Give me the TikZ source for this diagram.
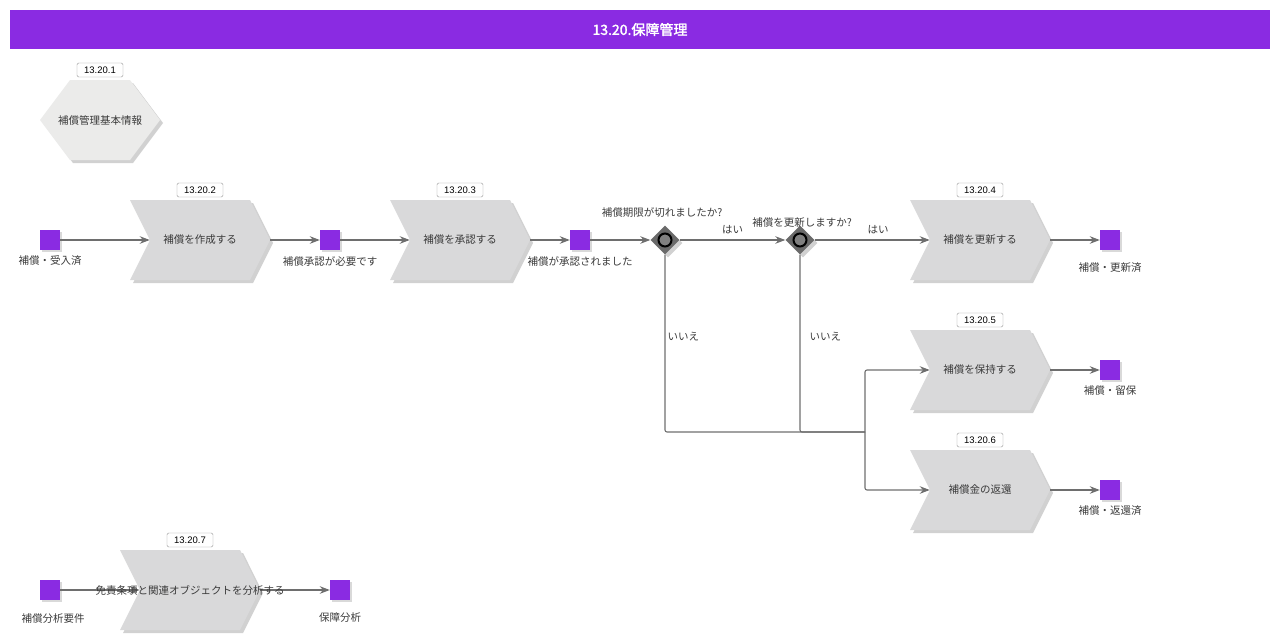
\documentclass[tikz,border=0pt]{standalone}
\usepackage{fontspec}
\setmainfont{Liberation Sans}
\newfontfamily\cjk[AutoFakeBold=2]{Noto Sans CJK JP}
\usetikzlibrary{shapes.symbols,shapes.geometric,shadows,arrows.meta}

\definecolor{titlebg}{HTML}{8A2BE2}
\definecolor{evpurple}{HTML}{8A2BE2}
\definecolor{funcgray}{HTML}{D9D9DA}
\definecolor{hexgray}{HTML}{EBEBEA}
\definecolor{diamgray}{HTML}{6A6A6A}
\definecolor{linegray}{HTML}{6E6E6E}
\definecolor{txtgray}{HTML}{3A3A3A}

\tikzset{
  shade3/.style={drop shadow={shadow xshift=3pt, shadow yshift=-3pt, fill=black, opacity=0.18}},
  func/.style={signal, signal to=east, signal from=west, signal pointer angle=126.87,
    fill=funcgray, minimum width=140, minimum height=80, inner sep=0, shade3},
  hexa/.style={signal, signal to=east and west, signal pointer angle=106.26,
    fill=hexgray, minimum width=120, minimum height=80, inner sep=0, shade3},
  event/.style={rectangle, fill=evpurple, minimum size=20, inner sep=0,
    drop shadow={shadow xshift=1.5pt, shadow yshift=-1.5pt, fill=black, opacity=0.15}},
  xorgate/.style={diamond, fill=diamgray, minimum width=29, minimum height=29, inner sep=0, shade3},
  ring/.style={circle, draw=black, line width=2, fill=gray, minimum size=13, inner sep=0},
  tag/.style={draw=gray!80, fill=white, rounded corners=1.5, minimum width=46, minimum height=14,
    inner sep=0, text=black, font=\fontsize{9.5}{10}\selectfont},
  line/.style={draw=linegray, line width=1.1},
  flow/.style={line, -{Stealth[length=10pt, width=7.5pt]}},
}

\begin{document}
\begin{tikzpicture}[x=1pt, y=-1pt,
    every node/.append style={text=txtgray, font=\cjk\fontsize{10.5}{12}\selectfont}]
  \useasboundingbox (0,0) rectangle (1280,640);
  % title bar
  \node[fill=titlebg, minimum width=1260, minimum height=39, inner sep=0, text=white,
    font=\cjk\bfseries\fontsize{14}{16}\selectfont] (title) at (640,29.5) {13.20.保障管理};

  % functions
  \node[hexa] (f1) at (100,120) {};
  \node (f1t) at (f1) {補償管理基本情報};
  \node[func] (f2) at (200,240) {補償を作成する};
  \node[func] (f3) at (460,240) {補償を承認する};
  \node[func] (f4) at (980,240) {補償を更新する};
  \node[func] (f5) at (980,370) {補償を保持する};
  \node[func] (f6) at (980,490) {補償金の返還};
  \node[func] (f7) at (190,590) {};

  \node[tag] (t1) at (100,70) {13.20.1};
  \node[tag] (t2) at (200,190) {13.20.2};
  \node[tag] (t3) at (460,190) {13.20.3};
  \node[tag] (t4) at (980,190) {13.20.4};
  \node[tag] (t5) at (980,320) {13.20.5};
  \node[tag] (t6) at (980,440) {13.20.6};
  \node[tag] (t7) at (190,540) {13.20.7};

  % events
  \node[event] (e1) at (50,240) {};
  \node[event] (e2) at (330,240) {};
  \node[event] (e3) at (580,240) {};
  \node[event] (e4) at (1110,240) {};
  \node[event] (e5) at (1110,370) {};
  \node[event] (e6) at (1110,490) {};
  \node[event] (e7) at (50,590) {};
  \node[event] (e8) at (340,590) {};

  \node (e1l) at (50,261) {補償・受入済};
  \node (e2l) at (330,261) {補償承認が必要です};
  \node (e3l) at (580,261) {補償が承認されました};
  \node (e4l) at (1110,268) {補償・更新済};
  \node (e5l) at (1110,391) {補償・留保};
  \node (e6l) at (1110,511) {補償・返還済};
  \node (e7l) at (53,619) {補償分析要件};
  \node (e8l) at (340,618) {保障分析};

  % gateways
  \node[xorgate] (g1) at (665,240) {};
  \node[xorgate] (g2) at (800,240) {};
  \node[ring] at (g1) {};
  \node[ring] at (g2) {};
  \node (g1l) at (662,212) {補償期限が切れましたか?};
  \node (g2l) at (802,223) {補償を更新しますか?};

  % connectors
  \draw[flow] (e1) -- (f2.west);
  \draw[flow] (f2.east) -- (e2);
  \draw[flow] (e2) -- (f3.west);
  \draw[flow] (f3.east) -- (e3);
  \draw[flow] (e3) -- (g1);
  \draw[flow] (g1) -- node[above=2pt] {はい} (g2);
  \draw[flow] (g2) -- node[above=2pt, pos=0.55] {はい} (f4.west);
  \draw[flow] (f4.east) -- (e4);
  \coordinate (j) at (865,432);
  \draw[line, rounded corners=2] (g1.south) |- (j);
  \draw[line, rounded corners=2] (g2.south) |- (j);
  \draw[flow, rounded corners=2] (j) |- (f5.west);
  \draw[flow, rounded corners=2] (j) |- (f6.west);
  \node[anchor=west] (n1) at (664,337) {いいえ};
  \node[anchor=west] (n2) at (806,337) {いいえ};
  \draw[flow] (f5.east) -- (e5);
  \draw[flow] (f6.east) -- (e6);
  \draw[flow] (e7) -- (f7.west);
  \draw[flow] (f7.east) -- (e8);
  \node (f7t) at (f7) {免責条項と関連オブジェクトを分析する};
\end{tikzpicture}
\end{document}
